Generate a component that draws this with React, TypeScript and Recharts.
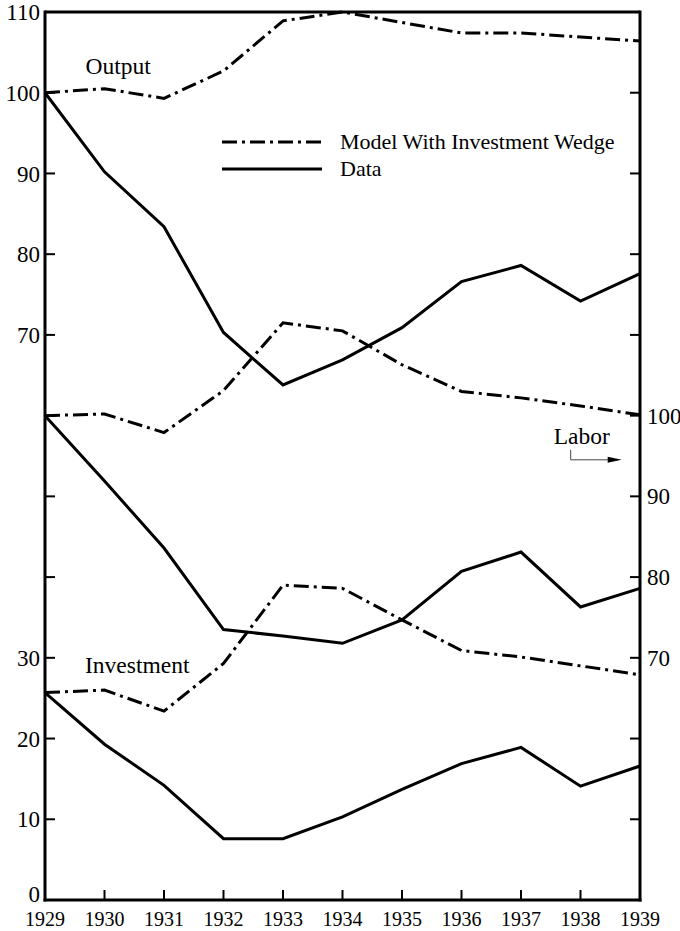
import React from 'react';
import { LineChart, Line, XAxis, YAxis, ReferenceLine, ReferenceDot } from 'recharts';

const years = [1929, 1930, 1931, 1932, 1933, 1934, 1935, 1936, 1937, 1938, 1939];

// output and investment are read on the left scale, labor on the right one
const outputData = [100, 90.2, 83.4, 70.3, 63.8, 66.9, 70.9, 76.6, 78.6, 74.2, 77.6];
const outputModel = [100, 100.5, 99.3, 102.7, 108.9, 110.0, 108.7, 107.4, 107.4, 106.9, 106.4];
const laborData = [100, 91.9, 83.6, 73.5, 72.7, 71.8, 74.7, 80.7, 83.1, 76.3, 78.6];
const laborModel = [100, 100.2, 97.9, 103.1, 111.5, 110.5, 106.3, 103.0, 102.2, 101.2, 100.1];
const investmentData = [25.7, 19.3, 14.2, 7.6, 7.6, 10.3, 13.7, 16.9, 18.9, 14.1, 16.6];
const investmentModel = [25.7, 26.0, 23.4, 29.3, 39.0, 38.6, 34.7, 30.9, 30.1, 29.0, 27.9];

const leftTicks = [0, 10, 20, 30, 40, 50, 60, 70, 80, 90, 100, 110];
const leftLabels = [0, 10, 20, 30, 70, 80, 90, 100, 110];
const rightTicks = [40, 50, 60, 70, 80, 90, 100, 110, 120, 130, 140, 150];
const rightLabels = [70, 80, 90, 100];

const legendItems = [
  { name: 'Model With Investment Wedge', dash: '15 5 3 5' },
  { name: 'Data', dash: undefined },
];

const FONT = '"Liberation Serif", "Times New Roman", serif';
const DASH_DOT = '15 5 3 5';
const LINE_W = 3;

const chartData = years.map((year, i) => ({
  year,
  outputData: outputData[i],
  outputModel: outputModel[i],
  laborData: laborData[i],
  laborModel: laborModel[i],
  investmentData: investmentData[i],
  investmentModel: investmentModel[i],
}));

const LeftTick = (props: any) => {
  const { x, y, payload } = props;
  if (!leftLabels.includes(payload.value)) return <g />;
  // the 0 sits just above the 1929 year label
  return (
    <text x={x} y={y + (payload.value === 0 ? -6 : 0)} dy="0.35em" textAnchor="end"
      fontSize={23} fontFamily={FONT} fill="#000">
      {payload.value}
    </text>
  );
};

const RightTick = (props: any) => {
  const { x, y, payload } = props;
  if (!rightLabels.includes(payload.value)) return <g />;
  return (
    <text x={x} y={y} dy="0.35em" textAnchor="start" fontSize={23} fontFamily={FONT} fill="#000">
      {payload.value}
    </text>
  );
};

const BottomTick = (props: any) => {
  const { x, y, payload } = props;
  return (
    <text x={x} y={y} dy="0.71em" textAnchor="middle" fontSize={20} fontFamily={FONT} fill="#000">
      {payload.value}
    </text>
  );
};

const labelShape = (text: string) => (props: any) => (
  <text x={props.cx} y={props.cy} dy="0.35em" textAnchor="middle" fontSize={23.5} fontFamily={FONT} fill="#000">
    {text}
  </text>
);

const LaborShape = (props: any) => {
  const { cx, cy } = props;
  return (
    <g>
      <text x={cx} y={cy} dy="0.35em" textAnchor="middle" fontSize={23.5} fontFamily={FONT} fill="#000">
        Labor
      </text>
      <polyline points={`${cx - 11},${cy + 14} ${cx - 11},${cy + 24} ${cx + 28},${cy + 24}`}
        fill="none" stroke="#444" strokeWidth={1} />
      <polygon points={`${cx + 26},${cy + 21} ${cx + 40},${cy + 24} ${cx + 26},${cy + 27}`} fill="#000" />
    </g>
  );
};

const axisLine = { stroke: '#000', strokeWidth: 3, strokeLinecap: 'square' as const };
const tickLine = { stroke: '#000', strokeWidth: 2 };

export default function App() {
  return (
    <div style={{ position: 'absolute', left: 0, top: 0, width: 680, height: 931, background: '#fff' }}>
      <LineChart width={680} height={931} data={chartData} margin={{ top: 12, right: 0, bottom: 0, left: 0 }}>
        <XAxis type="number" dataKey="year" domain={[1929, 1939]} ticks={years} interval={0}
          height={31} axisLine={axisLine} tickLine={tickLine} tickSize={-10} tickMargin={22}
          tick={<BottomTick />} />
        <YAxis yAxisId="left" domain={[0, 110]} ticks={leftTicks} interval={0} width={45}
          axisLine={axisLine} tickLine={tickLine} tickSize={-10} tickMargin={15} tick={<LeftTick />} />
        <YAxis yAxisId="right" orientation="right" domain={[40, 150]} ticks={rightTicks} interval={0} width={40}
          axisLine={axisLine} tickLine={tickLine} tickSize={-10} tickMargin={17} tick={<RightTick />} />
        <ReferenceLine yAxisId="left" y={110} stroke="#000" strokeWidth={3} />

        <Line yAxisId="left" dataKey="outputModel" stroke="#000" strokeWidth={LINE_W} strokeDasharray={DASH_DOT}
          dot={false} isAnimationActive={false} />
        <Line yAxisId="left" dataKey="outputData" stroke="#000" strokeWidth={LINE_W} dot={false} isAnimationActive={false} />
        <Line yAxisId="right" dataKey="laborModel" stroke="#000" strokeWidth={LINE_W} strokeDasharray={DASH_DOT}
          dot={false} isAnimationActive={false} />
        <Line yAxisId="right" dataKey="laborData" stroke="#000" strokeWidth={LINE_W} dot={false} isAnimationActive={false} />
        <Line yAxisId="left" dataKey="investmentModel" stroke="#000" strokeWidth={LINE_W} strokeDasharray={DASH_DOT}
          dot={false} isAnimationActive={false} />
        <Line yAxisId="left" dataKey="investmentData" stroke="#000" strokeWidth={LINE_W} dot={false} isAnimationActive={false} />

        <ReferenceDot yAxisId="left" x={1930.23} y={103.3} r={0} shape={labelShape('Output')} />
        <ReferenceDot yAxisId="left" x={1930.55} y={29.1} r={0} shape={labelShape('Investment')} />
        <ReferenceDot yAxisId="right" x={1938.02} y={97.5} r={0} shape={<LaborShape />} />
      </LineChart>

      <div style={{ position: 'absolute', left: 222, top: 128, fontFamily: FONT, fontSize: 22, color: '#000' }}>
        {legendItems.map((item) => (
          <div key={item.name} style={{ display: 'flex', alignItems: 'center', height: 27 }}>
            <svg width={100} height={10} style={{ marginRight: 18 }}>
              <line x1={0} y1={5} x2={100} y2={5} stroke="#000" strokeWidth={LINE_W} strokeDasharray={item.dash} />
            </svg>
            <span style={{ whiteSpace: 'nowrap', lineHeight: '27px' }}>{item.name}</span>
          </div>
        ))}
      </div>
    </div>
  );
}
